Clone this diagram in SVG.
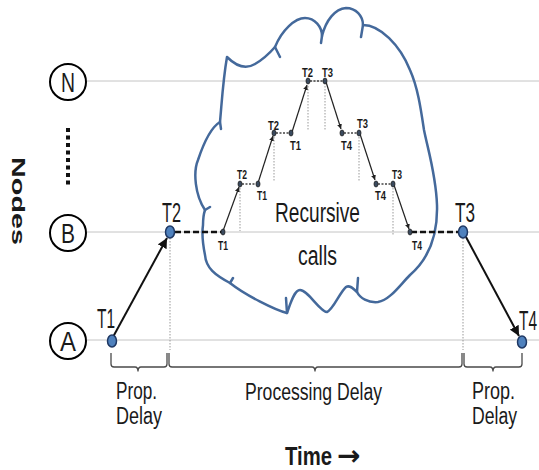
<svg xmlns="http://www.w3.org/2000/svg" width="539" height="470" viewBox="0 0 539 470">
  <style>
    .grid { stroke: #c4c4c4; stroke-width: 1; fill: none; }
    .node { fill: #ffffff; stroke: #000000; stroke-width: 2; }
    .lbl { font-family: "Liberation Sans", Arial, sans-serif; fill: #1a1a1a; }
    .big { font-size: 27px; }
    .small { font-size: 13px; font-weight: bold; }
    .delay { font-size: 23px; }
    .dot { fill: #4f81bd; stroke: #1f3864; stroke-width: 1.5; }
    .mini { fill: #3a4a5e; stroke: #222222; stroke-width: 0.8; }
    .arrow { stroke: #111111; stroke-width: 2; fill: none; }
    .thin { stroke: #222222; stroke-width: 1.2; fill: none; }
    .wait { stroke: #111111; stroke-width: 2.5; stroke-dasharray: 6 3; fill: none; }
    .waitsm { stroke: #444444; stroke-width: 1.6; stroke-dasharray: 2 1.5; fill: none; }
    .guide { stroke: #999999; stroke-width: 1; stroke-dasharray: 1.5 1.5; fill: none; }
    .brace { stroke: #4a4a4a; stroke-width: 1.3; fill: none; }
    .cloud { stroke: #44699b; stroke-width: 2.5; fill: none; stroke-linejoin: round; stroke-linecap: round; }
  </style>
  <defs>
    <marker id="head" markerUnits="userSpaceOnUse" markerWidth="12" markerHeight="10" refX="10" refY="5" orient="auto">
      <path d="M0,0 L10,5 L0,10 Z" fill="#111111"/>
    </marker>
    <marker id="headsm" markerUnits="userSpaceOnUse" markerWidth="6" markerHeight="6" refX="5" refY="3" orient="auto">
      <path d="M0,0.5 L5,3 L0,5.5 Z" fill="#222222"/>
    </marker>
  </defs>

  <rect width="539" height="470" fill="#ffffff"/>

  <!-- timelines for each node -->
  <g id="timelines">
    <line class="grid" x1="87" y1="81" x2="539" y2="81"/>
    <line class="grid" x1="87" y1="232" x2="539" y2="232"/>
    <line class="grid" x1="87" y1="340" x2="539" y2="340"/>
  </g>

  <!-- axis title -->
  <text class="lbl" font-family="'DejaVu Sans', sans-serif" font-weight="bold" font-size="18" textLength="88" lengthAdjust="spacingAndGlyphs" transform="translate(12,157) rotate(90)">Nodes</text>

  <!-- nodes -->
  <g id="node-N">
    <circle class="node" cx="68" cy="82" r="18"/>
    <text class="lbl big" x="61" y="92" textLength="14" lengthAdjust="spacingAndGlyphs">N</text>
  </g>
  <g id="node-ellipsis">
    <line x1="68" y1="128" x2="68" y2="186" stroke="#111111" stroke-width="4" stroke-dasharray="4 3.5"/>
  </g>
  <g id="node-B">
    <circle class="node" cx="68" cy="233" r="18"/>
    <text class="lbl big" x="61" y="243" textLength="14" lengthAdjust="spacingAndGlyphs">B</text>
  </g>
  <g id="node-A">
    <circle class="node" cx="68" cy="341" r="18"/>
    <text class="lbl big" x="60" y="351" textLength="16" lengthAdjust="spacingAndGlyphs">A</text>
  </g>

  <!-- recursive-call cloud -->
  <g id="cloud">
    <path class="cloud" d="M205,210 C195,195 193,172 198,160 C203,145 210,128 220,122 C222,100 223,80 227,57 C235,65 245,70 255,64 C262,60 268,55 275,47 C282,30 295,18 305,18 C315,18 322,27 322,36 C326,20 335,9 346,8 C356,8 363,16 363,25 C380,25 400,45 410,70 C418,88 421,110 424,130 C428,150 436,175 437,205 C438,240 425,262 410,275 C400,285 390,300 378,302 C368,303 360,298 357,292 C352,287 349,285 346,287 C340,292 333,310 327,312 C320,312 308,290 300,290 C294,290 290,305 287,313 C275,310 245,295 230,283 C215,275 206,268 205,255 C203,245 202,232 203,225 C203,218 204,213 205,210 Z"/>
    <path class="cloud" d="M220,122 L221,129 M275,47 L280,57 M322,36 L321,43 M363,25 L361,37 M357,292 L358,278 M287,313 L286,298 M230,283 L233,278 M205,210 L210,207"/>
    <text class="lbl" font-size="28" x="275" y="222" textLength="85" lengthAdjust="spacingAndGlyphs">Recursive</text>
    <text class="lbl" font-size="27" x="298" y="265" textLength="39" lengthAdjust="spacingAndGlyphs">calls</text>
  </g>

  <!-- connectors -->
  <g id="connectors">
    <!-- guide lines dropped from event points -->
    <line class="guide" x1="170" y1="238" x2="170" y2="350"/>
    <line class="guide" x1="463" y1="238" x2="463" y2="350"/>
    <line class="guide" x1="240" y1="188" x2="240" y2="231"/>
    <line class="guide" x1="274" y1="137" x2="274" y2="182"/>
    <line class="guide" x1="308" y1="86" x2="308" y2="131"/>
    <line class="guide" x1="325" y1="86" x2="325" y2="131"/>
    <line class="guide" x1="359" y1="137" x2="359" y2="182"/>
    <line class="guide" x1="393" y1="188" x2="393" y2="236"/>

    <!-- message A to B and B to A -->
    <line class="arrow" x1="113" y1="337" x2="167" y2="238" marker-end="url(#head)"/>
    <line class="arrow" x1="466" y1="237" x2="519" y2="336" marker-end="url(#head)"/>

    <!-- waiting on B -->
    <line class="wait" x1="175" y1="232" x2="222" y2="232"/>
    <line class="wait" x1="411" y1="232" x2="458" y2="232"/>

    <!-- nested calls -->
    <line class="thin" x1="223" y1="231" x2="239" y2="187" marker-end="url(#headsm)"/>
    <line class="waitsm" x1="242" y1="184" x2="256" y2="184"/>
    <line class="thin" x1="258" y1="183" x2="273" y2="136" marker-end="url(#headsm)"/>
    <line class="waitsm" x1="276" y1="133" x2="290" y2="133"/>
    <line class="thin" x1="292" y1="132" x2="307" y2="85" marker-end="url(#headsm)"/>
    <line class="waitsm" x1="310" y1="81" x2="324" y2="81"/>
    <line class="thin" x1="326" y1="82" x2="341" y2="129" marker-end="url(#headsm)"/>
    <line class="waitsm" x1="344" y1="133" x2="358" y2="133"/>
    <line class="thin" x1="360" y1="134" x2="375" y2="180" marker-end="url(#headsm)"/>
    <line class="waitsm" x1="378" y1="184" x2="392" y2="184"/>
    <line class="thin" x1="394" y1="185" x2="409" y2="229" marker-end="url(#headsm)"/>

    <!-- delay braces -->
    <path class="brace" d="M111,353 V364 Q111,367 114,367 H135 Q138,367 138,371.5 Q138,367 141,367 H164 Q167,367 167,364 V353"/>
    <path class="brace" d="M169,353 V364 Q169,367 172,367 H312 Q315,367 315,371.5 Q315,367 318,367 H459 Q462,367 462,364 V353"/>
    <path class="brace" d="M464,353 V364 Q464,367 467,367 H490 Q493,367 493,371.5 Q493,367 496,367 H519 Q522,367 522,364 V353"/>
  </g>

  <!-- event points -->
  <g id="event-T1">
    <ellipse class="dot" cx="112" cy="341" rx="4.5" ry="6"/>
    <text class="lbl big" x="97" y="328" textLength="18" lengthAdjust="spacingAndGlyphs">T1</text>
  </g>
  <g id="event-T2">
    <ellipse class="dot" cx="170" cy="232" rx="4.5" ry="6"/>
    <text class="lbl big" x="162" y="222" textLength="19" lengthAdjust="spacingAndGlyphs">T2</text>
  </g>
  <g id="event-T3">
    <ellipse class="dot" cx="463" cy="232" rx="4.5" ry="6"/>
    <text class="lbl big" x="455" y="222" textLength="20" lengthAdjust="spacingAndGlyphs">T3</text>
  </g>
  <g id="event-T4">
    <ellipse class="dot" cx="522" cy="342" rx="4.5" ry="6"/>
    <text class="lbl big" x="519" y="330" textLength="18" lengthAdjust="spacingAndGlyphs">T4</text>
  </g>

  <!-- nested call points -->
  <g id="inner-points">
    <ellipse class="mini" cx="223" cy="232" rx="2" ry="3"/>
    <ellipse class="mini" cx="240" cy="184" rx="2" ry="3"/>
    <ellipse class="mini" cx="258" cy="184" rx="2" ry="3"/>
    <ellipse class="mini" cx="274" cy="133" rx="2" ry="3"/>
    <ellipse class="mini" cx="291" cy="133" rx="2" ry="3"/>
    <ellipse class="mini" cx="308" cy="81" rx="2" ry="3"/>
    <ellipse class="mini" cx="325" cy="81" rx="2" ry="3"/>
    <ellipse class="mini" cx="342" cy="133" rx="2" ry="3"/>
    <ellipse class="mini" cx="359" cy="133" rx="2" ry="3"/>
    <ellipse class="mini" cx="376" cy="184" rx="2" ry="3"/>
    <ellipse class="mini" cx="393" cy="184" rx="2" ry="3"/>
    <ellipse class="mini" cx="410" cy="232" rx="2" ry="3"/>
  </g>
  <g id="inner-labels">
    <text class="lbl small" x="218" y="250" textLength="10" lengthAdjust="spacingAndGlyphs">T1</text>
    <text class="lbl small" x="237" y="179" textLength="10" lengthAdjust="spacingAndGlyphs">T2</text>
    <text class="lbl small" x="257" y="200" textLength="10" lengthAdjust="spacingAndGlyphs">T1</text>
    <text class="lbl small" x="268" y="130" textLength="11" lengthAdjust="spacingAndGlyphs">T2</text>
    <text class="lbl small" x="290" y="150" textLength="11" lengthAdjust="spacingAndGlyphs">T1</text>
    <text class="lbl small" x="302" y="77" textLength="11" lengthAdjust="spacingAndGlyphs">T2</text>
    <text class="lbl small" x="322" y="77" textLength="11" lengthAdjust="spacingAndGlyphs">T3</text>
    <text class="lbl small" x="341" y="150" textLength="11" lengthAdjust="spacingAndGlyphs">T4</text>
    <text class="lbl small" x="357" y="128" textLength="11" lengthAdjust="spacingAndGlyphs">T3</text>
    <text class="lbl small" x="375" y="200" textLength="11" lengthAdjust="spacingAndGlyphs">T4</text>
    <text class="lbl small" x="392" y="179" textLength="10" lengthAdjust="spacingAndGlyphs">T3</text>
    <text class="lbl small" x="412" y="250" textLength="10" lengthAdjust="spacingAndGlyphs">T4</text>
  </g>

  <!-- delay captions -->
  <g id="captions">
    <text class="lbl delay" x="116" y="399" textLength="41" lengthAdjust="spacingAndGlyphs">Prop.</text>
    <text class="lbl delay" x="116" y="424" textLength="46" lengthAdjust="spacingAndGlyphs">Delay</text>
    <text class="lbl delay" x="245" y="400" textLength="137" lengthAdjust="spacingAndGlyphs">Processing Delay</text>
    <text class="lbl delay" x="472" y="399" textLength="43" lengthAdjust="spacingAndGlyphs">Prop.</text>
    <text class="lbl delay" x="472" y="424" textLength="45" lengthAdjust="spacingAndGlyphs">Delay</text>
    <text class="lbl" font-size="26" font-weight="bold" x="285" y="465">
      <tspan textLength="47" lengthAdjust="spacingAndGlyphs">Time</tspan>
      <tspan x="337" font-family="'DejaVu Sans', sans-serif" font-size="28" font-weight="bold">→</tspan>
    </text>
  </g>
</svg>
